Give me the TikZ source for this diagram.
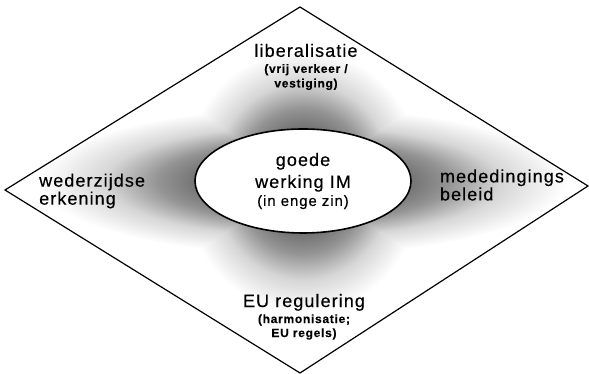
\documentclass[tikz,border=0pt]{standalone}
\usepackage{fontspec}
\setmainfont[LetterSpace=6, FakeBold=0.4]{Liberation Sans}
\usepackage{tikz}
\usetikzlibrary{shapes.geometric, positioning}
\pgfdeclareradialshading{haze}{\pgfpoint{0bp}{0bp}}{color(0bp)=(black!58); color(8bp)=(black!55); color(11bp)=(black!42); color(15bp)=(black!16); color(20bp)=(white); color(50bp)=(white)}
\tikzstyle{core} = [ellipse, draw=black, line width=1.6pt, fill=white, minimum width=216pt, minimum height=104pt, inner sep=0pt, align=center, font=\fontsize{18}{22}\selectfont]
\tikzstyle{pole} = [inner sep=0pt, font=\fontsize{18}{22}\selectfont]
\tikzstyle{rim} = [draw=black, line width=1.2pt, line join=miter]
\newcommand{\subtxt}[1]{{\fontsize{12}{16}\selectfont\bfseries #1}}

\begin{document}
\begin{tikzpicture}[x=1pt, y=1pt]
        \useasboundingbox (0,0) rectangle (589,374);
        % diamond
        \coordinate (top) at (300,367);
        \coordinate (right) at (588,188);
        \coordinate (bottom) at (300,1);
        \coordinate (left) at (5,184);
        \coordinate (mid) at (303,193);

        % shading
        \begin{scope}
            \clip (top) -- (right) -- (bottom) -- (left) -- cycle;
            \begin{scope}[blend group=darken]
                \shade[shading=haze] (mid) ellipse [x radius=150pt, y radius=165pt];
                \shade[shading=haze] (mid) ellipse [x radius=330pt, y radius=92pt];
            \end{scope}
        \end{scope}
        \draw[rim] (top) -- (right) -- (bottom) -- (left) -- cycle;

        % centre
        \node[core] (core) at (mid) {goede\\werking IM\\[-4pt]{\fontsize{15}{18}\selectfont (in enge zin)}};

        % four sides
        \node[pole, align=center, above=38pt of core, xshift=3pt] (liberal) {liberalisatie\\[-6pt]\subtxt{(vrij verkeer /}\\[-7.4pt]\subtxt{vestiging)}};
        \node[pole, align=center, below=60pt of core, xshift=1pt] (regul) {EU regulering\\[-6pt]\subtxt{(harmonisatie;}\\[-8pt]\subtxt{EU regels)}};
        \node[pole, align=left, right=34pt of left, yshift=-1pt] (mutual) {wederzijdse\\[-4pt]erkening};
        \node[pole, align=left, right=28pt of core, yshift=-4pt] (compet) {mededingings\\[-4pt]beleid};
\end{tikzpicture}
\end{document}
